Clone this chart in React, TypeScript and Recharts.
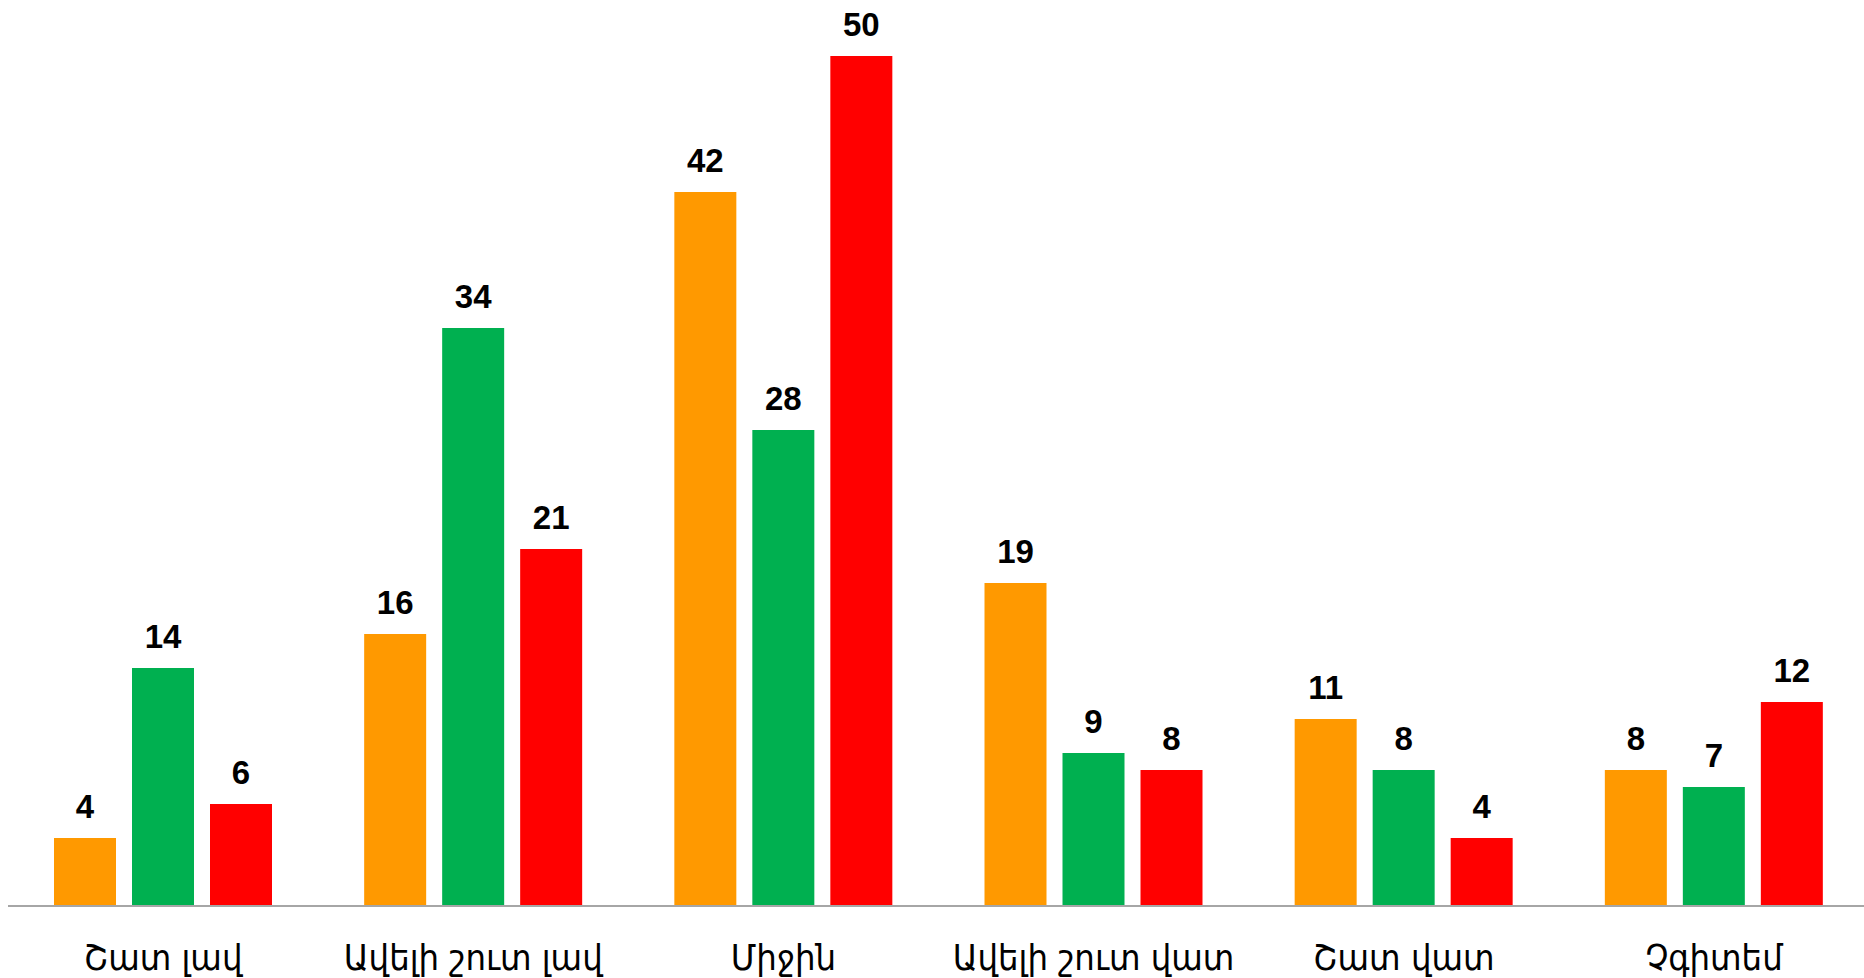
import { Bar, BarChart, LabelList, XAxis, YAxis } from "recharts";

const categories = ["Շատ լավ", "Ավելի շուտ լավ", "Միջին", "Ավելի շուտ վատ", "Շատ վատ", "Չգիտեմ"];
const orangeValues = [4, 16, 42, 19, 11, 8];
const greenValues = [14, 34, 28, 9, 8, 7];
const redValues = [6, 21, 50, 8, 4, 12];

const data = categories.map((label, i) => ({
  label,
  orange: orangeValues[i],
  green: greenValues[i],
  red: redValues[i],
}));

const labelStyle = { fontFamily: "'Liberation Sans', Arial, sans-serif", fontWeight: 700, fontSize: 33, fill: "#000" };

export default function App() {
  return (
    <div style={{ width: 1864, height: 978, background: "#fff", overflow: "hidden" }}>
      <style>{"body{margin:0;overflow:hidden}"}</style>
      <BarChart
        width={1869}
        height={978}
        data={data}
        margin={{ top: 56, right: 0, left: 8, bottom: 0 }}
        barGap={16}
        barSize={62}
      >
        <XAxis
          dataKey="label"
          height={72}
          tickLine={false}
          axisLine={{ stroke: "#a6a6a6", strokeWidth: 2 }}
          tickMargin={32}
          tick={{ fontFamily: "'DejaVu Sans Condensed', 'DejaVu Sans', sans-serif", fontSize: 36, fill: "#000" }}
          interval={0}
        />
        <YAxis hide domain={[0, 50]} />
        <Bar dataKey="orange" fill="#ff9900" isAnimationActive={false}>
          <LabelList dataKey="orange" position="top" offset={20} style={labelStyle} />
        </Bar>
        <Bar dataKey="green" fill="#00b050" isAnimationActive={false}>
          <LabelList dataKey="green" position="top" offset={20} style={labelStyle} />
        </Bar>
        <Bar dataKey="red" fill="#ff0000" isAnimationActive={false}>
          <LabelList dataKey="red" position="top" offset={20} style={labelStyle} />
        </Bar>
      </BarChart>
    </div>
  );
}
